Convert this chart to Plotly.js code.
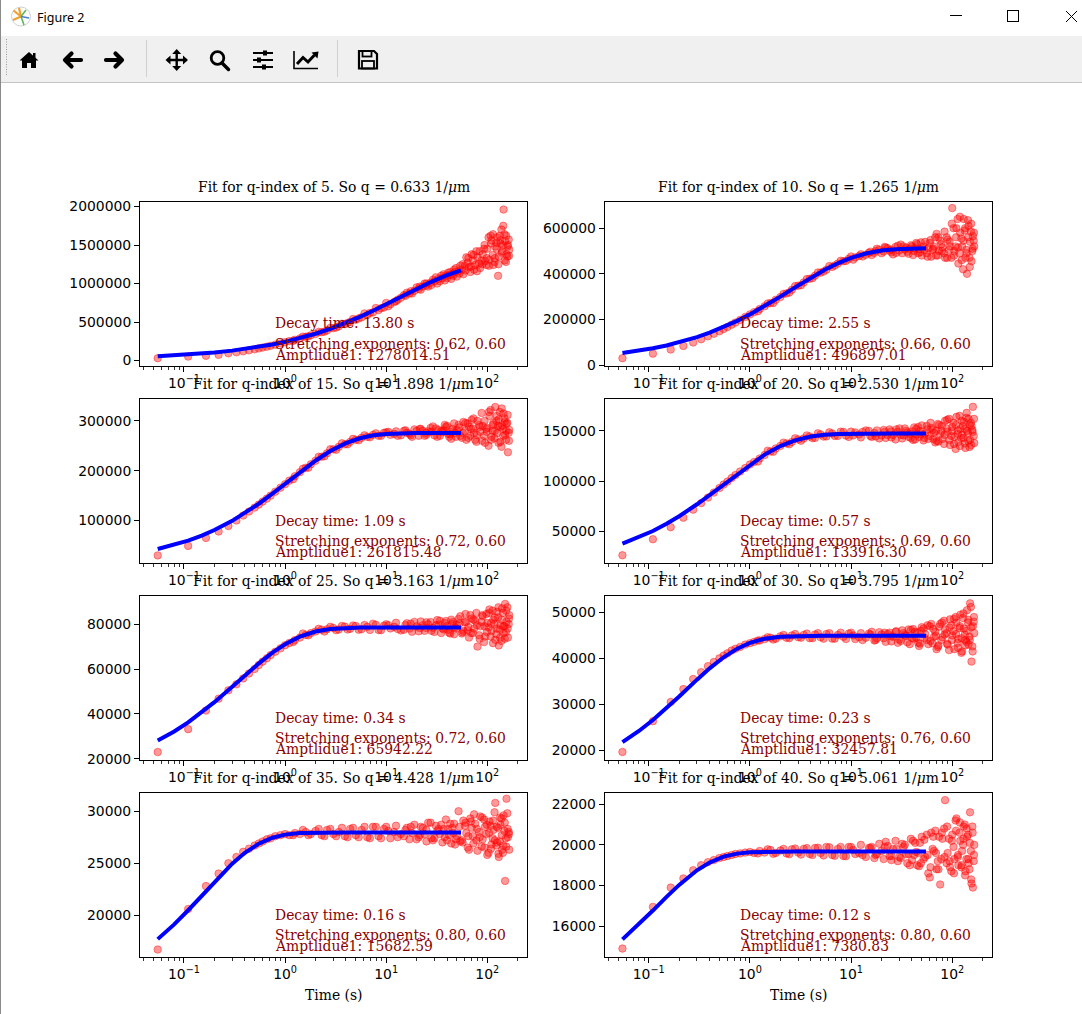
<!DOCTYPE html>
<html>
<head>
<meta charset="utf-8">
<script src="https://cdn.plot.ly/plotly-3.0.1.min.js"></script>
<style>
  body { margin: 0; background: #fff; overflow: hidden; }
  #fig { position: absolute; left: 0; top: 0; width: 1082px; height: 1014px; }
  #chrome { position: absolute; left: 0; top: 0; z-index: 10; }
  #edge { position: absolute; left: 0; top: 0; width: 1px; height: 1014px; background: #8a8a8a; z-index: 11; }
</style>
</head>
<body>
<div id="fig"></div>
<svg id="chrome" width="1082" height="83" xmlns="http://www.w3.org/2000/svg">
  <rect x="0" y="0" width="1082" height="36" fill="#ffffff"/>
  <rect x="0" y="36" width="1082" height="46" fill="#f0f0f0"/>
  <line x1="0" y1="82.5" x2="1082" y2="82.5" stroke="#c4c4c4"/>
  <!-- window icon -->
  <circle cx="21" cy="16.5" r="9.5" fill="#fff" stroke="#cfcfcf"/>
  <path d="M21,16.5 L13.5,10.5 M21,16.5 L13,20 M21,16.5 L19,8" stroke="#f0a030" stroke-width="2.2"/>
  <path d="M21,16.5 L24,25 M21,16.5 L26,10" stroke="#5cb85c" stroke-width="1.6"/>
  <path d="M21,16.5 L29,18" stroke="#4a7fd0" stroke-width="1.4"/>
  <text x="37" y="22" font-family="Noto Sans, sans-serif" font-size="12.5" fill="#000">Figure 2</text>
  <!-- window buttons -->
  <line x1="950" y1="15.5" x2="962" y2="15.5" stroke="#000"/>
  <rect x="1007.5" y="10.5" width="11" height="11" fill="none" stroke="#000"/>
  <path d="M1066,11 L1077,22 M1077,11 L1066,22" stroke="#000"/>
  <!-- toolbar -->
  <line x1="6.5" y1="39" x2="6.5" y2="76" stroke="#9a9a9a" stroke-dasharray="1 1.5"/>
  <path d="M29,52 L19.5,60.5 L22,60.5 L22,68 L27,68 L27,63 L31,63 L31,68 L36,68 L36,60.5 L38.5,60.5 Z" fill="#000"/>
  <rect x="33" y="53" width="2.5" height="5" fill="#000"/>
  <path d="M81,60 H66 M71.5,53.5 L65,60 L71.5,66.5" stroke="#000" stroke-width="4.2" fill="none" stroke-linecap="round" stroke-linejoin="round"/>
  <path d="M106,60 H121 M115.5,53.5 L122,60 L115.5,66.5" stroke="#000" stroke-width="4.2" fill="none" stroke-linecap="round" stroke-linejoin="round"/>
  <line x1="146.5" y1="40" x2="146.5" y2="77" stroke="#d0d0d0"/>
  <path d="M167,60 H186.5 M176.7,51 V69" stroke="#000" stroke-width="2.4"/>
  <path d="M165.5,60 L170.5,55.5 L170.5,64.5 Z M188,60 L183,55.5 L183,64.5 Z M176.7,49 L172.2,54 L181.2,54 Z M176.7,71 L172.2,66 L181.2,66 Z" fill="#000"/>
  <circle cx="217.5" cy="58" r="6.3" fill="none" stroke="#000" stroke-width="2.8"/>
  <line x1="222" y1="63" x2="228.5" y2="69.5" stroke="#000" stroke-width="3.5" stroke-linecap="round"/>
  <path d="M253,53 H273 M253,60 H273 M253,67 H273" stroke="#000" stroke-width="1.8"/>
  <rect x="263" y="50.5" width="4" height="5" fill="#000"/>
  <rect x="257" y="57.5" width="4" height="5" fill="#000"/>
  <rect x="262" y="64.5" width="4" height="5" fill="#000"/>
  <polyline points="294,51 294,68.5 318,68.5" fill="none" stroke="#000" stroke-width="1.6"/>
  <polyline points="297,64 303,57.5 308,62 314.5,55" fill="none" stroke="#000" stroke-width="3"/>
  <path d="M318.5,51.5 L311.5,52.5 L317.5,58.5 Z" fill="#000"/>
  <line x1="337.5" y1="40" x2="337.5" y2="77" stroke="#d0d0d0"/>
  <path d="M359,51 H374 L377,54 V68.5 H359 Z" fill="none" stroke="#000" stroke-width="2.2"/>
  <rect x="362.5" y="51" width="9" height="5.5" fill="none" stroke="#000" stroke-width="1.8"/>
  <rect x="362" y="61" width="12" height="7.5" fill="none" stroke="#000" stroke-width="1.8"/>
</svg>
<div id="edge"></div>
<script>
// time axis (s), shared by all q-indices
var tAll = [
  0.055, 0.11, 0.165, 0.22, 0.275, 0.33, 0.385, 0.44,
  0.5, 0.55, 0.6, 0.66, 0.72, 0.8, 0.9,
  1.0, 1.1, 1.25, 1.4, 1.6, 1.8,
  2.0, 2.3, 2.6, 3.0, 3.4, 3.9, 4.4,
  5.0, 5.7, 6.5, 7.4, 8.4, 9.5,
  11, 12.5, 14, 15.5, 17, 19,
  21, 23, 25, 27.5, 30, 33, 36, 39,
  42, 45, 48, 52, 56, 60, 64, 68, 72, 76,
  80, 85, 90, 95, 100, 105, 110, 115, 120, 125,
  130, 135, 140, 145, 150, 155, 160, 165
];
var tMid = [1.2, 1.5, 1.7, 2.15, 2.45, 2.8, 3.2, 3.65, 4.15, 4.7, 5.35, 6.1, 6.9, 7.9, 8.9, 10];
var tExtra = [
  10.5, 13, 16, 18, 20, 22, 24, 26, 29, 32,
  35, 38, 41, 44, 47, 50, 54, 58, 62, 66,
  70, 74, 78, 83, 88, 93, 98, 103, 108, 113,
  118, 123, 128, 133, 138, 143, 148, 153, 158, 163
];
var tTail = [
  12, 15, 17.5, 21.5, 25, 28, 31, 34, 37, 40,
  43, 46, 49, 53, 57, 61, 65, 69, 73, 79,
  84, 89, 94, 99, 104, 109, 114, 119, 124, 129,
  134, 139, 144, 149, 154, 159, 164
];
var tFit = [0.055, 0.08, 0.11, 0.15, 0.2, 0.3, 0.4, 0.55, 0.75, 1, 1.4, 2, 2.8, 4, 5.5, 7.5, 10, 14, 20, 28, 40, 55];

// q-index 5
var q5Main = [
  30000, 51000, 61000, 74000, 94000, 107000, 120000, 132000,
  145000, 158000, 168000, 180000, 192000, 206000, 222000,
  238000, 252000, 270000, 287000, 308000, 328000,
  345000, 368000, 390000, 420000, 444000, 472000, 500000,
  528000, 560000, 590000, 624000, 655000, 688000,
  730000, 770000, 815000, 840000, 870000, 905000,
  930000, 960000, 975000, 1010000, 1030000, 1060000, 1070000, 1100000,
  1110000, 1120000, 1150000, 1160000, 1180000, 1230000, 1270000, 1150000, 1300000, 1240000,
  1340000, 1200000, 1380000, 1290000, 1450000, 1310000, 1560000, 1240000, 1480000, 1600000,
  1350000, 1520000, 1420000, 1960000, 1550000, 1380000, 1500000, 1440000
];
var q5Mid = [255000, 310000, 315000, 372000, 375000, 425000, 428000, 478000, 488000, 540000, 548000, 612000, 618000, 682000, 680000, 748000];
var q5Extra = [
  705000, 790000, 880000, 870000, 950000, 920000, 1000000, 960000, 1050000, 1000000,
  1100000, 1040000, 1140000, 1060000, 1180000, 1090000, 1230000, 1120000, 1340000, 1210000,
  1380000, 1180000, 1420000, 1260000, 1300000, 1450000, 1240000, 1600000, 1620000, 1370000,
  1280000, 1530000, 1100000, 1620000, 1700000, 1500000, 1640000, 1280000, 1350000, 1570000
];
var q5Tail = [
  760000, 850000, 900000, 960000, 1000000, 980000, 1080000, 1030000, 1120000, 1070000,
  1150000, 1100000, 1200000, 1130000, 1250000, 1170000, 1330000, 1220000, 1370000, 1160000,
  1420000, 1250000, 1500000, 1330000, 1230000, 1520000, 1640000, 1330000, 1450000, 1250000,
  1560000, 1400000, 1750000, 1300000, 1620000, 1480000, 1360000
];
var q5Fit = [55900, 66400, 77300, 90100, 104300, 128600, 149600, 177000, 208600, 243000, 289600, 348000, 412100, 489500, 566800, 648900, 729500, 827000, 930000, 1022000, 1108300, 1172000];

// q-index 10
var q10Main = [
  30000, 50000, 68000, 84000, 99000, 113000, 126000, 137000,
  148000, 158000, 167000, 177000, 186000, 198000, 211000,
  222000, 232000, 246000, 258000, 272000, 286000,
  298000, 314000, 330000, 348000, 362000, 378000, 392000,
  405000, 418000, 430000, 445000, 455000, 466000,
  472000, 486000, 483000, 497000, 492000, 506000,
  498000, 512000, 494000, 518000, 502000, 520000, 497000, 525000,
  500000, 530000, 495000, 520000, 490000, 535000, 505000, 560000, 480000, 545000,
  515000, 470000, 550000, 520000, 688000, 500000, 600000, 445000, 580000, 520000,
  640000, 470000, 400000, 610000, 540000, 455000, 565000, 520000
];
var q10Mid = [236000, 270000, 272000, 312000, 318000, 346000, 350000, 377000, 381000, 406000, 410000, 434000, 436000, 457000, 456000, 476000];
var q10Extra = [
  462000, 476000, 482000, 510000, 490000, 515000, 502000, 485000, 523000, 490000,
  515000, 510000, 482000, 535000, 508000, 480000, 540000, 512000, 475000, 520000,
  575000, 500000, 530000, 490000, 560000, 505000, 470000, 600000, 520000, 640000,
  490000, 555000, 420000, 590000, 505000, 635000, 470000, 585000, 500000, 545000
];
var q10Tail = [
  478000, 492000, 500000, 518000, 505000, 492000, 528000, 507000, 488000, 520000,
  512000, 490000, 538000, 505000, 475000, 548000, 510000, 480000, 560000, 500000,
  585000, 470000, 540000, 620000, 480000, 560000, 515000, 650000, 460000, 545000,
  600000, 490000, 560000, 430000, 620000, 510000, 580000
];
var q10Fit = [52960, 63100, 73640, 86000, 99500, 122400, 141800, 166400, 193800, 222100, 258400, 299900, 340400, 382600, 417500, 447200, 469600, 489000, 501800, 508100, 510800, 511600];

// q-index 15
var q15Main = [
  30000, 49000, 65000, 78000, 89000, 100000, 110000, 118000,
  126000, 132000, 138000, 144000, 150000, 158000, 166000,
  173000, 180000, 189000, 197000, 206000, 213000,
  220000, 228000, 235000, 243000, 248000, 253000, 258000,
  262000, 266000, 268000, 272000, 270000, 276000,
  272000, 279000, 271000, 281000, 274000, 283000,
  270000, 280000, 276000, 286000, 271000, 282000, 277000, 288000,
  268000, 284000, 276000, 292000, 266000, 280000, 295000, 270000, 285000, 262000,
  300000, 278000, 290000, 256000, 286000, 310000, 268000, 296000, 328000, 275000,
  303000, 258000, 290000, 315000, 272000, 295000, 237000, 282000
];
var q15Mid = [183000, 204000, 206000, 228000, 229000, 243000, 242000, 255000, 253000, 264000, 261000, 271000, 267000, 275000, 270000, 277000];
var q15Extra = [
  278000, 270000, 276000, 268000, 280000, 284000, 270000, 279000, 289000, 268000,
  280000, 292000, 274000, 264000, 295000, 281000, 270000, 298000, 262000, 288000,
  302000, 276000, 258000, 292000, 316000, 270000, 284000, 250000, 322000, 280000,
  265000, 300000, 290000, 318000, 248000, 284000, 305000, 262000, 296000, 276000
];
var q15Tail = [
  274000, 280000, 271000, 284000, 272000, 278000, 285000, 270000, 281000, 290000,
  273000, 279000, 268000, 287000, 276000, 296000, 266000, 284000, 305000, 272000,
  288000, 260000, 300000, 278000, 318000, 262000, 292000, 280000, 310000, 256000,
  288000, 325000, 270000, 298000, 280000, 312000, 260000
];
var q15Fit = [42800, 51000, 59700, 69800, 80900, 99400, 114800, 133700, 153900, 173500, 196800, 220100, 239400, 255400, 265200, 271100, 273900, 275300, 275700, 275800, 275800, 275800];

// q-index 20
var q20Main = [
  26000, 42000, 54000, 63500, 71500, 78000, 83500, 88500,
  93000, 96500, 99500, 103000, 106000, 109500, 113000,
  116500, 119000, 122500, 126000, 129500, 132500,
  135000, 137500, 139000, 141500, 142500, 144500, 143000,
  146500, 144500, 147500, 145000, 149000, 144000,
  148500, 143500, 150500, 145000, 148000, 142500,
  151000, 146000, 149500, 141500, 152500, 145500, 148500, 143000,
  153500, 146500, 150000, 140500, 155000, 145000, 151000, 138500, 157000, 147000,
  142000, 160000, 149000, 136000, 154000, 144000, 164000, 139000, 152000, 146000,
  159000, 133000, 150000, 162000, 141000, 155000, 174000, 138000
];
var q20Mid = [119500, 130300, 129200, 138300, 136700, 142600, 140200, 145500, 142800, 147600, 144300, 148600, 145000, 149200, 145300, 149300];
var q20Extra = [
  145500, 149000, 144000, 150500, 145500, 143000, 151500, 146000, 149000, 142500,
  150000, 147000, 141000, 152000, 144000, 155500, 147500, 142000, 153000, 148000,
  140000, 156000, 150000, 137000, 152500, 162000, 145000, 158000, 132000, 150500,
  165000, 143000, 155000, 137500, 163000, 148000, 134000, 158000, 151000, 145000
];
var q20Tail = [
  146500, 150000, 144500, 149000, 143500, 151500, 146000, 152500, 144000, 149500,
  141500, 154000, 147000, 143000, 151500, 158000, 142000, 150000, 139500, 155000,
  146000, 161000, 141000, 150000, 137000, 156000, 147000, 135000, 160000, 143000,
  152000, 168000, 140000, 156000, 136000, 149000, 162000
];
var q20Fit = [37600, 43850, 50200, 57370, 64900, 76840, 86110, 96830, 107300, 116600, 126400, 134900, 140600, 144400, 146200, 146900, 147200, 147300, 147300, 147300, 147300, 147300];

// q-index 25
var q25Main = [
  23000, 33200, 41500, 46800, 50500, 53200, 55800, 58000,
  60000, 61800, 63300, 64800, 66200, 67700, 69200,
  70600, 71600, 72900, 74000, 75200, 76000,
  76700, 77500, 77700, 78300, 77600, 78900, 77900,
  79200, 77700, 78800, 80200, 77400, 79300,
  78100, 80600, 77200, 79600, 78000, 81000,
  76800, 79500, 78300, 80900, 76500, 79800, 78200, 81400,
  76200, 80100, 78600, 82300, 75800, 80800, 77300, 84000, 76000, 81500,
  70000, 79000, 83500, 74500, 80500, 86500, 77000, 82000, 73000, 85500,
  70500, 79500, 87000, 76000, 89000, 81000, 74000, 84000
];
var q25Mid = [72000, 75800, 75000, 77900, 76700, 78800, 77300, 79200, 77600, 79400, 77500, 79600, 77400, 79700, 77300, 79900];
var q25Extra = [
  79500, 77800, 80400, 76600, 79000, 81200, 77000, 79900, 78400, 81800,
  76000, 80500, 77500, 82000, 75500, 79700, 83500, 77000, 81000, 74000,
  82500, 78000, 85000, 75000, 81000, 72000, 84500, 78500, 74500, 86000,
  80000, 75500, 83000, 77500, 72500, 85000, 79000, 76500, 87500, 80000
];
var q25Tail = [
  78800, 77500, 80200, 78300, 80800, 77000, 79500, 81500, 77600, 79200,
  75800, 81000, 78000, 80300, 76300, 84500, 78700, 76000, 82000, 79500,
  73500, 84000, 79000, 76500, 85000, 80500, 71500, 83000, 78000, 87500,
  74000, 82000, 79000, 73500, 86000, 78000, 82500
];
var q25Fit = [28200, 32200, 36230, 40680, 45220, 52100, 57110, 62500, 67280, 71040, 74410, 76710, 77850, 78360, 78510, 78540, 78540, 78540, 78540, 78540, 78540, 78540];

// q-index 30
var q30Main = [
  19600, 26300, 30500, 33300, 35500, 37000, 38300, 39200,
  40000, 40600, 41100, 41700, 42100, 42500, 43000,
  43300, 43600, 43900, 44200, 44500, 44300,
  44800, 44500, 45000, 44600, 45100, 44400, 45200,
  44600, 45300, 44300, 45100, 44700, 45400,
  44200, 45500, 44500, 45200, 43900, 45700,
  44400, 45300, 43700, 45800, 44100, 45500, 43500, 46200,
  44300, 45600, 43200, 46500, 44000, 47000, 43300, 45800, 42500, 47500,
  44600, 46300, 43000, 48500, 45000, 42000, 47800, 44200, 49500, 41500,
  46500, 44000, 50500, 43000, 52000, 39300, 47000, 45500
];
var q30Mid = [43900, 44600, 44100, 45100, 44400, 45300, 44500, 45400, 44400, 45500, 44300, 45500, 44300, 45600, 44200, 45600];
var q30Extra = [
  45000, 44000, 45800, 44400, 45200, 43600, 45600, 44700, 43400, 46100,
  44900, 43100, 46400, 44500, 42700, 46800, 45300, 43100, 47500, 44700,
  42000, 46900, 44000, 48200, 45500, 41800, 47200, 45900, 49000, 43400,
  46600, 41200, 48800, 45200, 43600, 47800, 44700, 51200, 42600, 48000
];
var q30Tail = [
  44600, 45400, 44000, 45600, 44800, 45900, 43800, 45100, 46300, 44400,
  45800, 43400, 46000, 44500, 47200, 43800, 46400, 44900, 42800, 47800,
  45200, 43200, 46700, 44000, 48600, 45300, 42300, 47000, 44400, 49800,
  42800, 46000, 48400, 44000, 46800, 41500, 49000
];
var q30Fit = [21740, 24170, 26570, 29150, 31700, 35360, 37830, 40240, 42120, 43380, 44280, 44720, 44870, 44900, 44910, 44910, 44910, 44910, 44910, 44910, 44910, 44910];

// q-index 35
var q35Main = [
  16700, 20600, 22800, 24000, 25000, 25600, 26100, 26400,
  26700, 26900, 27100, 27300, 27400, 27600, 27700,
  27800, 27700, 27900, 27800, 28000, 27800,
  28100, 27700, 28200, 27800, 28000, 27600, 28300,
  27700, 28200, 27500, 28500, 27600, 28300,
  27400, 28600, 27800, 28200, 27300, 28700,
  27500, 28400, 27100, 28900, 27400, 28300, 27000, 29200,
  27700, 28400, 26800, 30000, 27200, 28600, 26500, 29300, 27600, 28800,
  26200, 29500, 27300, 28500, 25800, 29000, 26800, 28200, 30800, 27000,
  25600, 28700, 26300, 29600, 23300, 31200, 27500, 26300
];
var q35Mid = [27700, 28200, 27700, 28300, 27600, 28300, 27600, 28400, 27500, 28400, 27500, 28500, 27400, 28500, 27400, 28500];
var q35Extra = [
  28100, 27500, 28400, 27900, 27300, 28500, 27800, 28900, 27200, 28100,
  28700, 27500, 28300, 26900, 28800, 27600, 27100, 29100, 27900, 26300,
  28400, 29700, 27200, 28000, 26600, 29200, 27800, 26000, 28600, 27400,
  29900, 26700, 28400, 27100, 29300, 26000, 28100, 27400, 29800, 28000
];
var q35Tail = [
  28000, 27600, 28500, 27700, 28200, 27400, 28600, 27800, 28300, 27200,
  28800, 27900, 27300, 28500, 27000, 28900, 27600, 29000, 26900, 28300,
  27500, 29400, 26500, 28700, 27900, 26400, 29100, 27200, 28500, 25900,
  29400, 27700, 26700, 28900, 26600, 28300, 27800
];
var q35Fit = [17700, 19120, 20480, 21880, 23200, 24950, 26000, 26880, 27450, 27750, 27900, 27940, 27950, 27950, 27950, 27950, 27950, 27950, 27950, 27950, 27950, 27950];

// q-index 40
var q40Main = [
  14900, 16950, 17900, 18350, 18750, 19000, 19150, 19250,
  19350, 19400, 19450, 19500, 19550, 19580, 19620,
  19650, 19600, 19700, 19620, 19750, 19600,
  19720, 19580, 19780, 19620, 19800, 19550, 19850,
  19600, 19900, 19500, 19800, 19450, 19900,
  19550, 20000, 19400, 19850, 19350, 20050,
  19300, 19950, 19250, 20200, 19400, 19900, 19100, 20300,
  19500, 19000, 20100, 19300, 20500, 18400, 19800, 20700, 19200, 18050,
  20300, 22200, 19600, 18900, 20500, 19300, 21300, 19000, 20200, 19700,
  20900, 18700, 20400, 19100, 21600, 18100, 17900, 20000
];
var q40Mid = [19580, 19780, 19560, 19800, 19540, 19820, 19520, 19840, 19500, 19860, 19480, 19880, 19460, 19900, 19440, 19900];
var q40Extra = [
  19750, 19500, 19900, 19550, 19700, 20150, 19450, 19800, 19200, 20050,
  19550, 19000, 20200, 19650, 18950, 20400, 19400, 18600, 20600, 19700,
  18800, 20400, 19300, 20800, 19100, 20300, 18700, 19900, 21200, 19400,
  20600, 18900, 20000, 21000, 19300, 20500, 18800, 19700, 20900, 19200
];
var q40Tail = [
  19600, 19850, 19500, 19900, 19450, 19800, 19350, 20000, 19550, 19250,
  20100, 19600, 19100, 20250, 19500, 18900, 20400, 19600, 18800, 20600,
  19400, 20900, 19200, 20200, 18600, 20700, 19500, 21100, 19000, 20300,
  18500, 20800, 19300, 20100, 18300, 20600, 19500
];
var q40Fit = [15350, 16090, 16770, 17440, 18030, 18750, 19130, 19420, 19570, 19640, 19665, 19670, 19670, 19670, 19670, 19670, 19670, 19670, 19670, 19670, 19670, 19670];

var qIndex = [5, 10, 15, 20, 25, 30, 35, 40];
var qValue = ['0.633', '1.265', '1.898', '2.530', '3.163', '3.795', '4.428', '5.061'];
var decayTime = ['13.80', '2.55', '1.09', '0.57', '0.34', '0.23', '0.16', '0.12'];
var stretchA = ['0.62', '0.66', '0.72', '0.69', '0.72', '0.76', '0.80', '0.80'];
var stretchB = ['0.60', '0.60', '0.60', '0.60', '0.60', '0.60', '0.60', '0.60'];
var amplitude = ['1278014.51', '496897.01', '261815.48', '133916.30', '65942.22', '32457.81', '15682.59', '7380.83'];

var yTicks = [
  [0, 500000, 1000000, 1500000, 2000000],
  [0, 200000, 400000, 600000],
  [100000, 200000, 300000],
  [50000, 100000, 150000],
  [20000, 40000, 60000, 80000],
  [20000, 30000, 40000, 50000],
  [20000, 25000, 30000],
  [16000, 18000, 20000, 22000]
];
var yRanges = [
  [-64600, 2065000], [-2000, 717000], [15700, 345000], [18800, 182300],
  [19690, 92750], [17960, 53700], [16030, 31800], [14510, 22575]
];
var xTickVals = [0.1, 1, 10, 100];
var xTickText = ['10<sup>\u22121</sup>', '10<sup>0</sup>', '10<sup>1</sup>', '10<sup>2</sup>'];
var xMinorVals = [0.04, 0.05, 0.06, 0.07, 0.08, 0.09, 0.2, 0.3, 0.4, 0.5, 0.6, 0.7, 0.8, 0.9,
                  2, 3, 4, 5, 6, 7, 8, 9, 20, 30, 40, 50, 60, 70, 80, 90, 200];

var mains = [q5Main, q10Main, q15Main, q20Main, q25Main, q30Main, q35Main, q40Main];
var mids = [q5Mid, q10Mid, q15Mid, q20Mid, q25Mid, q30Mid, q35Mid, q40Mid];
var extras = [q5Extra, q10Extra, q15Extra, q20Extra, q25Extra, q30Extra, q35Extra, q40Extra];
var tails = [q5Tail, q10Tail, q15Tail, q20Tail, q25Tail, q30Tail, q35Tail, q40Tail];
var fits = [q5Fit, q10Fit, q15Fit, q20Fit, q25Fit, q30Fit, q35Fit, q40Fit];

// page geometry (pixels)
var W = 1082, H = 1014;
var colL = [140, 604.7], colR = [527.3, 992.3];
var rowTop = [201.5, 398.5, 595.5, 792.5], axH = 164;
function fx(px) { return px / W; }
function fy(px) { return 1 - px / H; }

var serif = 'DejaVu Serif, serif';
var sans = 'DejaVu Sans, sans-serif';
var fs = 13.9;
var dark = '#8b0000';
var dot = 'rgba(255,0,0,0.4)';

var data = [];
var layout = {
  width: W, height: H,
  margin: {l: 0, r: 0, t: 0, b: 0},
  paper_bgcolor: '#ffffff',
  plot_bgcolor: '#ffffff',
  showlegend: false,
  annotations: []
};

for (var i = 0; i < 8; i++) {
  var s = i === 0 ? '' : String(i + 1);
  var col = i % 2, row = Math.floor(i / 2);
  var L = colL[col], R = colR[col], T = rowTop[row], B = T + axH;

  [[tAll, mains[i]], [tMid, mids[i]], [tExtra, extras[i]], [tTail, tails[i]]].forEach(function (set) {
    data.push({
      x: set[0], y: set[1],
      type: 'scatter', mode: 'markers',
      marker: {size: 7.5, color: dot, line: {width: 1, color: dot}},
      xaxis: 'x' + s, yaxis: 'y' + s, hoverinfo: 'skip'
    });
  });
  data.push({
    x: tFit, y: fits[i], type: 'scatter', mode: 'lines',
    line: {color: '#0000ff', width: 4},
    xaxis: 'x' + s, yaxis: 'y' + s, hoverinfo: 'skip'
  });

  layout['xaxis' + s] = {
    type: 'log', domain: [fx(L), fx(R)], range: [-1.435, 2.396], anchor: 'y' + s,
    showline: true, mirror: true, linecolor: '#000', linewidth: 1,
    ticks: 'outside', ticklen: 5, tickwidth: 1, tickcolor: '#000',
    tickmode: 'array', tickvals: xTickVals, ticktext: xTickText,
    tickfont: {family: sans, size: fs, color: '#000'},
    showgrid: false, zeroline: false,
    minor: {ticks: 'outside', ticklen: 3, tickwidth: 0.8, tickcolor: '#000',
            tickmode: 'array', tickvals: xMinorVals, showgrid: false}
  };
  layout['yaxis' + s] = {
    domain: [fy(B), fy(T)], range: yRanges[i], anchor: 'x' + s,
    showline: true, mirror: true, linecolor: '#000', linewidth: 1,
    ticks: 'outside', ticklen: 5, tickwidth: 1, tickcolor: '#000',
    tickmode: 'array', tickvals: yTicks[i], tickformat: 'd',
    tickfont: {family: sans, size: fs, color: '#000'},
    showgrid: false, zeroline: false
  };

  var ann = layout.annotations;
  ann.push({
    xref: 'paper', yref: 'paper', x: fx((L + R) / 2), y: fy(T - 5),
    xanchor: 'center', yanchor: 'bottom', showarrow: false,
    text: 'Fit for q-index of ' + qIndex[i] + '. So q = ' + qValue[i] + ' 1/<i>\u03bc</i>m',
    font: {family: serif, size: fs, color: '#000'}
  });
  var lines = [
    ['Decay time: ' + decayTime[i] + ' s', 32],
    ['Stretching exponents: ' + stretchA[i] + ', ' + stretchB[i], 11.5],
    ['Amptlidue1: ' + amplitude[i], 1]
  ];
  lines.forEach(function (ln) {
    ann.push({
      xref: 'paper', yref: 'paper', x: fx(L + 133), y: fy(B - ln[1]),
      xanchor: 'left', yanchor: 'bottom', showarrow: false,
      text: ln[0], font: {family: serif, size: fs, color: dark}
    });
  });
  if (row === 3) {
    ann.push({
      xref: 'paper', yref: 'paper', x: fx((L + R) / 2), y: fy(1005),
      xanchor: 'center', yanchor: 'bottom', showarrow: false,
      text: 'Time (s)', font: {family: serif, size: fs, color: '#000'}
    });
  }
}

Plotly.newPlot('fig', data, layout, {displayModeBar: false, staticPlot: true});
</script>
</body>
</html>
